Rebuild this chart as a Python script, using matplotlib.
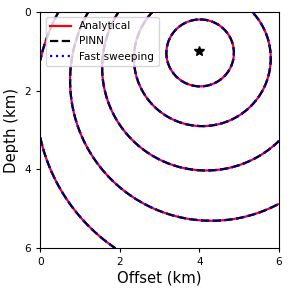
import numpy as np
import matplotlib
matplotlib.use("Agg")
import matplotlib.pyplot as plt
from matplotlib.lines import Line2D

# model / source (km, km/s, 1/s)
source_x, source_z = 4.0, 1.0
v0, grad_z, grad_x = 1.5, 0.278, 0.1124
levels = [0.38, 0.765, 1.15, 1.54, 1.95]
x_ticks = [0, 2, 4, 6]
z_ticks = [0, 2, 4, 6]
labels = ["Analytical", "PINN", "Fast sweeping"]

x = np.linspace(0, 6, 481)
z = np.linspace(0, 6, 481)
X, Z = np.meshgrid(x, z)
V = v0 + grad_z * Z + grad_x * X
vs = v0 + grad_z * source_z + grad_x * source_x
G = np.hypot(grad_x, grad_z)
R2 = (X - source_x) ** 2 + (Z - source_z) ** 2
T = np.arccosh(1 + G ** 2 * R2 / (2 * vs * V)) / G

lw = 1.6
fig = plt.figure(figsize=(2.90, 2.93), dpi=100)
ax = fig.add_axes([0.139, 0.1526, 0.823, 0.8074])
ax.contour(X, Z, T, levels=levels, colors="red", linestyles="solid", linewidths=lw)
ax.contour(X, Z, T, levels=levels, colors="black", linestyles="dashed", linewidths=lw)
ax.contour(X, Z, T, levels=levels, colors="blue", linestyles="dotted", linewidths=lw)
ax.plot([source_x], [source_z], marker="*", color="black", markersize=7, linestyle="none")

ax.set_xlim(0, 6)
ax.set_ylim(6, 0)
ax.set_xticks(x_ticks)
ax.set_yticks(z_ticks)
ax.tick_params(labelsize=7.6, length=3)
ax.set_xlabel("Offset (km)", fontsize=10.7, labelpad=2)
ax.set_ylabel("Depth (km)", fontsize=10.7, labelpad=4)

handles = [Line2D([], [], color="red", linestyle="solid", lw=lw),
           Line2D([], [], color="black", linestyle="dashed", lw=lw),
           Line2D([], [], color="blue", linestyle="dotted", lw=lw)]
ax.legend(handles, labels, loc="upper left", fontsize=7.6)

fig.savefig("out.png", dpi=100)
